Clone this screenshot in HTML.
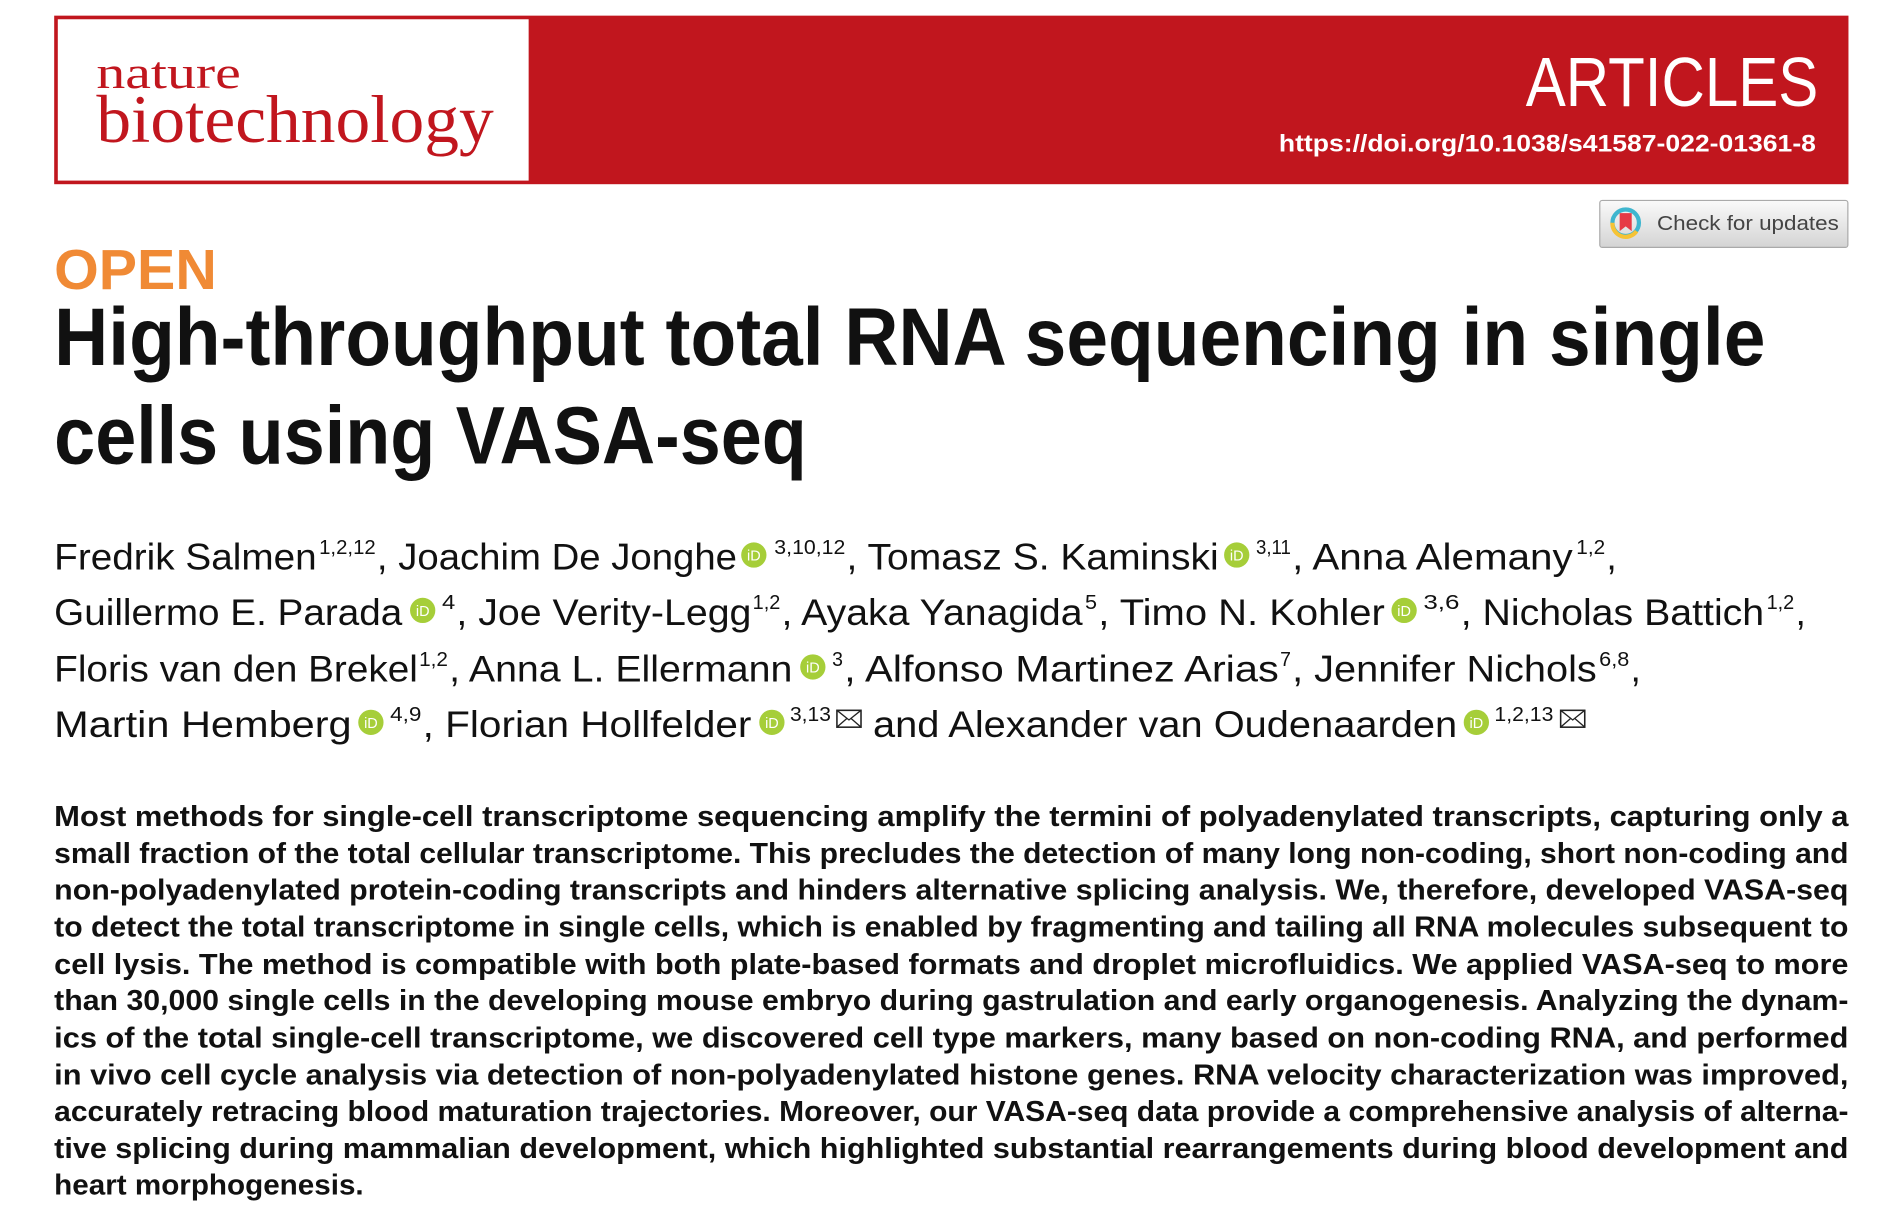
<!DOCTYPE html>
<html><head><meta charset="utf-8"><style>
html,body{margin:0;padding:0;background:#fff;width:1887px;height:1222px;overflow:hidden}
svg{display:block}
.s{font-family:"Liberation Sans",sans-serif}
.a{font-family:"Liberation Sans",sans-serif;font-size:31px;fill:#111}
.sp{font-family:"Liberation Sans",sans-serif;font-size:17px;fill:#111}
.ab{font-family:"Liberation Sans",sans-serif;font-size:24px;font-weight:bold;fill:#111}
</style></head><body>
<svg width="1887" height="1222" viewBox="0 0 1567 1015" preserveAspectRatio="none" xmlns="http://www.w3.org/2000/svg">
<defs>
<linearGradient id="bg" x1="0" y1="0" x2="0" y2="1"><stop offset="0" stop-color="#fafafa"/><stop offset="1" stop-color="#d4d4d4"/></linearGradient>
<g id="orcid"><circle r="10.5" fill="#a6ce39"/><text x="0" y="4.5" text-anchor="middle" font-family="Liberation Sans,sans-serif" font-size="12" fill="#fff">iD</text></g>
<g id="env"><rect x="0" y="-15" width="20" height="14" fill="none" stroke="#222" stroke-width="1.3"/><path d="M0 -15 L10 -7 L20 -15 M0 -1 L8 -8 M20 -1 L12 -8" fill="none" stroke="#222" stroke-width="1.1"/></g>
</defs>
<g>
<rect x="45" y="13" width="1490" height="140" fill="#c1161e"/>
<rect x="48" y="16" width="391" height="134" fill="#fff"/>
<text x="80" y="73" font-family="Liberation Serif,serif" font-size="38" fill="#c1161e" textLength="120" lengthAdjust="spacingAndGlyphs">nature</text>
<text x="80" y="118" font-family="Liberation Serif,serif" font-size="56" fill="#c1161e" textLength="330" lengthAdjust="spacingAndGlyphs">biotechnology</text>
<text class="s" x="1267" y="88" font-size="58" fill="#fff" textLength="243" lengthAdjust="spacingAndGlyphs">ARTICLES</text>
<text class="s" x="1062" y="126" font-size="20" font-weight="bold" fill="#fff" textLength="446" lengthAdjust="spacingAndGlyphs">https://doi.org/10.1038/s41587-022-01361-8</text>
</g>
<g>
<rect x="1328.5" y="166.5" width="206" height="39" rx="2" fill="url(#bg)" stroke="#aaa"/>
<circle cx="1350" cy="185" r="11" fill="none" stroke="#3fb6cf" stroke-width="3.5"/>
<path d="M1339 185 A11 11 0 0 0 1359 192" fill="none" stroke="#f6c335" stroke-width="3.5"/>
<path d="M1345 177 h10 v15 l-5 -4 l-5 4 z" fill="#e63a45"/>
<text class="s" x="1376" y="191" font-size="17" fill="#444" textLength="151" lengthAdjust="spacingAndGlyphs">Check for updates</text>
</g>
<text class="s" x="45" y="240" font-size="47" font-weight="bold" fill="#f08a35" textLength="135" lengthAdjust="spacingAndGlyphs">OPEN</text>
<g>
<text class="s" x="45" y="303" font-size="68" font-weight="bold" fill="#111" textLength="1421" lengthAdjust="spacingAndGlyphs">High-throughput total RNA sequencing in single</text>
<text class="s" x="45" y="385" font-size="68" font-weight="bold" fill="#111" textLength="625" lengthAdjust="spacingAndGlyphs">cells using VASA-seq</text>
</g>
<g>
<text class="a" x="45" y="473" textLength="218" lengthAdjust="spacingAndGlyphs">Fredrik Salmen</text>
<text class="sp" x="265" y="460" textLength="47" lengthAdjust="spacingAndGlyphs">1,2,12</text>
<text class="a" x="313" y="473" textLength="299" lengthAdjust="spacingAndGlyphs">, Joachim De Jonghe</text>
<use href="#orcid" x="626" y="461"/>
<text class="sp" x="643" y="460" textLength="59" lengthAdjust="spacingAndGlyphs">3,10,12</text>
<text class="a" x="703" y="473" textLength="309" lengthAdjust="spacingAndGlyphs">, Tomasz S. Kaminski</text>
<use href="#orcid" x="1027" y="461"/>
<text class="sp" x="1043" y="460" textLength="29" lengthAdjust="spacingAndGlyphs">3,11</text>
<text class="a" x="1073" y="473" textLength="233" lengthAdjust="spacingAndGlyphs">, Anna Alemany</text>
<text class="sp" x="1309" y="460" textLength="24" lengthAdjust="spacingAndGlyphs">1,2</text>
<text class="a" x="1334" y="473">,</text>
<text class="a" x="45" y="519" textLength="289" lengthAdjust="spacingAndGlyphs">Guillermo E. Parada</text>
<use href="#orcid" x="351" y="507"/>
<text class="sp" x="367" y="506" textLength="11" lengthAdjust="spacingAndGlyphs">4</text>
<text class="a" x="379" y="519" textLength="245" lengthAdjust="spacingAndGlyphs">, Joe Verity-Legg</text>
<text class="sp" x="625" y="506" textLength="23" lengthAdjust="spacingAndGlyphs">1,2</text>
<text class="a" x="649" y="519" textLength="250" lengthAdjust="spacingAndGlyphs">, Ayaka Yanagida</text>
<text class="sp" x="901" y="506" textLength="10" lengthAdjust="spacingAndGlyphs">5</text>
<text class="a" x="912" y="519" textLength="238" lengthAdjust="spacingAndGlyphs">, Timo N. Kohler</text>
<use href="#orcid" x="1166" y="507"/>
<text class="sp" x="1182" y="506" textLength="30" lengthAdjust="spacingAndGlyphs">3,6</text>
<text class="a" x="1213" y="519" textLength="252" lengthAdjust="spacingAndGlyphs">, Nicholas Battich</text>
<text class="sp" x="1467" y="506" textLength="23" lengthAdjust="spacingAndGlyphs">1,2</text>
<text class="a" x="1491" y="519">,</text>
<text class="a" x="45" y="566" textLength="302" lengthAdjust="spacingAndGlyphs">Floris van den Brekel</text>
<text class="sp" x="348" y="553" textLength="24" lengthAdjust="spacingAndGlyphs">1,2</text>
<text class="a" x="373" y="566" textLength="285" lengthAdjust="spacingAndGlyphs">, Anna L. Ellermann</text>
<use href="#orcid" x="675" y="554"/>
<text class="sp" x="691" y="553" textLength="9" lengthAdjust="spacingAndGlyphs">3</text>
<text class="a" x="701" y="566" textLength="361" lengthAdjust="spacingAndGlyphs">, Alfonso Martinez Arias</text>
<text class="sp" x="1063" y="553" textLength="9" lengthAdjust="spacingAndGlyphs">7</text>
<text class="a" x="1073" y="566" textLength="253" lengthAdjust="spacingAndGlyphs">, Jennifer Nichols</text>
<text class="sp" x="1328" y="553" textLength="25" lengthAdjust="spacingAndGlyphs">6,8</text>
<text class="a" x="1354" y="566">,</text>
<text class="a" x="45" y="612" textLength="247" lengthAdjust="spacingAndGlyphs">Martin Hemberg</text>
<use href="#orcid" x="308" y="600"/>
<text class="sp" x="324" y="599" textLength="26" lengthAdjust="spacingAndGlyphs">4,9</text>
<text class="a" x="351" y="612" textLength="273" lengthAdjust="spacingAndGlyphs">, Florian Hollfelder</text>
<use href="#orcid" x="641" y="600"/>
<text class="sp" x="656" y="599" textLength="34" lengthAdjust="spacingAndGlyphs">3,13</text>
<use href="#env" x="695" y="605"/>
<text class="a" x="725" y="612" textLength="485" lengthAdjust="spacingAndGlyphs">and Alexander van Oudenaarden</text>
<use href="#orcid" x="1226" y="600"/>
<text class="sp" x="1241" y="599" textLength="49" lengthAdjust="spacingAndGlyphs">1,2,13</text>
<use href="#env" x="1296" y="605"/>
</g>
<g>
<text class="ab" x="45" y="686" textLength="1490" lengthAdjust="spacingAndGlyphs">Most methods for single-cell transcriptome sequencing amplify the termini of polyadenylated transcripts, capturing only a</text>
<text class="ab" x="45" y="717" textLength="1490" lengthAdjust="spacingAndGlyphs">small fraction of the total cellular transcriptome. This precludes the detection of many long non-coding, short non-coding and</text>
<text class="ab" x="45" y="747" textLength="1490" lengthAdjust="spacingAndGlyphs">non-polyadenylated protein-coding transcripts and hinders alternative splicing analysis. We, therefore, developed VASA-seq</text>
<text class="ab" x="45" y="778" textLength="1490" lengthAdjust="spacingAndGlyphs">to detect the total transcriptome in single cells, which is enabled by fragmenting and tailing all RNA molecules subsequent to</text>
<text class="ab" x="45" y="809" textLength="1490" lengthAdjust="spacingAndGlyphs">cell lysis. The method is compatible with both plate-based formats and droplet microfluidics. We applied VASA-seq to more</text>
<text class="ab" x="45" y="839" textLength="1490" lengthAdjust="spacingAndGlyphs">than 30,000 single cells in the developing mouse embryo during gastrulation and early organogenesis. Analyzing the dynam-</text>
<text class="ab" x="45" y="870" textLength="1490" lengthAdjust="spacingAndGlyphs">ics of the total single-cell transcriptome, we discovered cell type markers, many based on non-coding RNA, and performed</text>
<text class="ab" x="45" y="901" textLength="1490" lengthAdjust="spacingAndGlyphs">in vivo cell cycle analysis via detection of non-polyadenylated histone genes. RNA velocity characterization was improved,</text>
<text class="ab" x="45" y="931" textLength="1490" lengthAdjust="spacingAndGlyphs">accurately retracing blood maturation trajectories. Moreover, our VASA-seq data provide a comprehensive analysis of alterna-</text>
<text class="ab" x="45" y="962" textLength="1490" lengthAdjust="spacingAndGlyphs">tive splicing during mammalian development, which highlighted substantial rearrangements during blood development and</text>
<text class="ab" x="45" y="992" textLength="257" lengthAdjust="spacingAndGlyphs">heart morphogenesis.</text>
</g>
</svg>
</body></html>
